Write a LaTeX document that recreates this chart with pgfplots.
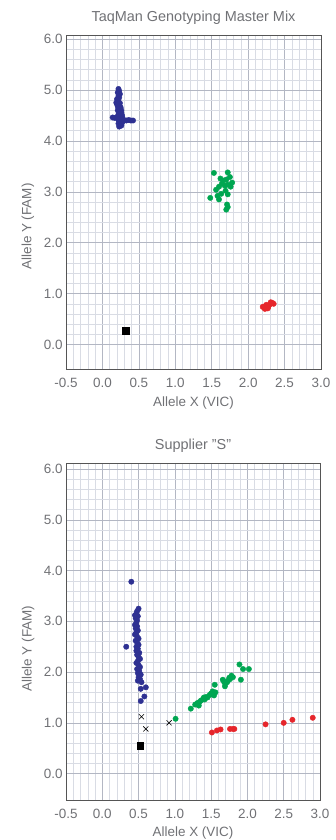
\documentclass[border=0pt]{standalone}
\usepackage{pgfplots}
\pgfplotsset{compat=1.18}
\usepackage{fontspec}
\setmainfont{Liberation Sans}
\definecolor{txt}{HTML}{707175}
\definecolor{gmaj}{HTML}{B3B7C3}
\definecolor{gmin}{HTML}{D9DCE4}
\definecolor{frame}{HTML}{555555}
\definecolor{cblue}{HTML}{2E3192}
\definecolor{cgreen}{HTML}{00A651}
\definecolor{cred}{HTML}{E6262B}
\pgfplotsset{
  every axis title shift=0pt,
  gstyle/.style={
    scale only axis,
    anchor=south west,
    xmin=-0.5, xmax=3.0,
    xtick={-0.5,0,0.5,1,1.5,2,2.5,3},
    ytick={0,1,2,3,4,5,6},
    minor x tick num=4, minor y tick num=4,
    grid=both,
    major grid style={color=gmaj, line width=0.5bp},
    minor grid style={color=gmin, line width=0.45bp},
    axis line style={color=frame, line width=1bp},
    major tick length=0pt, minor tick length=0pt,
    /pgf/number format/.cd, fixed, fixed zerofill, precision=1, assume math mode=true,
    /pgfplots/.cd,
    tick label style={font=\fontsize{13.5}{14}\selectfont, color=txt},
    xticklabel style={anchor=base, yshift=-18bp},
    label style={font=\fontsize{13.5}{14}\selectfont, color=txt},
    xlabel style={at={(axis description cs:0.5,0)}, anchor=center, yshift=-33bp},
    title style={font=\fontsize{14.5}{15}\selectfont, color=txt, at={(axis description cs:0.5,1)}, anchor=center, yshift=18bp},
    xlabel={Allele X (VIC)},
    ylabel={Allele Y (FAM)},
    clip=false,
  },
  pb/.style={only marks, mark=*, mark size=2.7bp, mark options={draw=cblue, fill=cblue}},
  pg/.style={only marks, mark=*, mark size=2.7bp, mark options={draw=cgreen, fill=cgreen}},
  pr/.style={only marks, mark=*, mark size=2.7bp, mark options={draw=cred, fill=cred}},
  pk/.style={only marks, mark=square*, mark size=3.1bp, mark options={draw=black, fill=black}},
  px/.style={only marks, mark=x, mark size=3.6bp, mark options={draw=black, line width=0.6bp}},
}
\begin{document}
\begin{tikzpicture}
\useasboundingbox (0,0) rectangle (336bp,840bp);
\begin{axis}[gstyle, at={(66bp,470bp)}, width=255bp, height=334bp,
  ymin=-0.5, ymax=6.06,
  title={TaqMan Genotyping Master Mix},
  ylabel style={at={(axis description cs:-0.149,0.43)}, anchor=center}]
\addplot[pb] coordinates {
(0.22,5.02)(0.23,4.98)(0.21,4.95)(0.24,4.92)(0.22,4.88)(0.23,4.85)(0.20,4.82)(0.22,4.78)
(0.19,4.75)(0.24,4.74)(0.20,4.72)(0.23,4.70)(0.21,4.68)(0.25,4.66)(0.22,4.64)(0.24,4.62)
(0.26,4.60)(0.21,4.60)(0.23,4.57)(0.26,4.55)(0.24,4.53)(0.22,4.52)(0.27,4.50)(0.25,4.48)
(0.20,4.47)(0.14,4.46)(0.17,4.45)(0.23,4.45)(0.28,4.44)(0.26,4.42)(0.22,4.41)(0.30,4.40)
(0.33,4.40)(0.36,4.41)(0.39,4.40)(0.42,4.40)(0.24,4.38)(0.27,4.36)(0.22,4.34)(0.25,4.31)
(0.23,4.28)(0.26,4.30)};
\addplot[pg] coordinates {
(1.53,3.37)(1.72,3.38)(1.75,3.29)(1.62,3.26)(1.66,3.22)(1.70,3.24)(1.78,3.18)(1.64,3.16)
(1.72,3.14)(1.68,3.12)(1.60,3.10)(1.76,3.10)(1.56,3.04)(1.69,3.02)(1.63,2.96)(1.72,2.95)
(1.58,2.92)(1.48,2.88)(1.60,2.85)(1.71,2.75)(1.72,2.70)(1.70,2.65)};
\addplot[pr] coordinates {
(2.20,0.74)(2.22,0.72)(2.24,0.76)(2.23,0.70)(2.26,0.73)(2.25,0.78)(2.28,0.75)(2.30,0.79)
(2.33,0.82)(2.35,0.80)(2.31,0.83)(2.27,0.71)};
\addplot[pk] coordinates {(0.32,0.27)};
\end{axis}
\begin{axis}[gstyle, at={(66bp,40bp)}, width=254bp, height=336bp,
  ymin=-0.52, ymax=6.1,
  title={Supplier "S"},
  ylabel style={at={(axis description cs:-0.149,0.45)}, anchor=center}]
\addplot[pb] coordinates {
(0.40,3.78)(0.50,3.25)(0.48,3.20)(0.47,3.15)(0.45,3.12)(0.49,3.10)(0.46,3.06)(0.48,3.02)
(0.47,2.97)(0.45,2.93)(0.48,2.90)(0.46,2.86)(0.49,2.82)(0.47,2.78)(0.45,2.74)(0.48,2.70)
(0.50,2.66)(0.46,2.62)(0.48,2.58)(0.50,2.54)(0.47,2.50)(0.33,2.50)(0.49,2.46)(0.47,2.42)
(0.51,2.38)(0.48,2.34)(0.50,2.30)(0.52,2.26)(0.49,2.22)(0.47,2.18)(0.50,2.14)(0.52,2.10)
(0.48,2.06)(0.51,2.02)(0.49,1.98)(0.53,1.95)(0.50,1.90)(0.52,1.86)(0.49,1.83)(0.54,1.80)
(0.60,1.70)(0.53,1.67)(0.58,1.52)(0.53,1.43)};
\addplot[pg] coordinates {
(1.01,1.08)(1.22,1.28)(1.28,1.36)(1.31,1.39)(1.33,1.34)(1.34,1.41)(1.36,1.44)(1.39,1.47)
(1.40,1.50)(1.41,1.46)(1.43,1.51)(1.45,1.50)(1.48,1.55)(1.50,1.58)(1.52,1.62)(1.54,1.54)
(1.56,1.60)(1.55,1.75)(1.66,1.85)(1.68,1.80)(1.69,1.72)(1.70,1.78)(1.72,1.80)(1.73,1.83)
(1.75,1.89)(1.76,1.86)(1.78,1.93)(1.80,1.90)(1.89,2.15)(1.91,1.85)(1.94,2.06)(2.02,2.06)};
\addplot[pr] coordinates {
(1.51,0.81)(1.58,0.85)(1.63,0.87)(1.76,0.88)(1.80,0.88)(1.82,0.88)(2.25,0.97)(2.50,1.00)
(2.62,1.06)(2.90,1.10)};
\addplot[px] coordinates {(0.54,1.12)(0.60,0.88)(0.92,1.00)};
\addplot[pk] coordinates {(0.52,0.55)};
\end{axis}
\end{tikzpicture}
\end{document}
